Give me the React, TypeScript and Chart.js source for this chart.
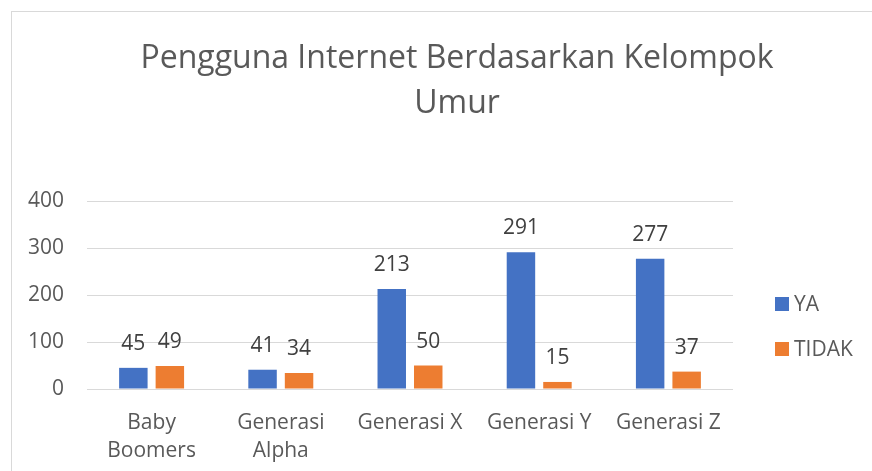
import React, { useEffect, useRef } from 'react';
import { Chart, registerables } from 'chart.js';

Chart.register(...registerables);

const titleLines = ['Pengguna Internet Berdasarkan Kelompok', 'Umur'];
const categories: (string | string[])[] = [
  ['Baby', 'Boomers'],
  ['Generasi', 'Alpha'],
  'Generasi X',
  'Generasi Y',
  'Generasi Z',
];
const seriesNames = ['YA', 'TIDAK'];
const yaValues = [45, 41, 213, 291, 277];
const tidakValues = [49, 34, 50, 15, 37];
const yMin = 0;
const yMax = 400;
const yStep = 100;

const FONT = "'Open Sans', 'Noto Sans', sans-serif";

const dataLabelsPlugin = {
  id: 'dataLabels',
  afterDatasetsDraw(chart: any) {
    const ctx = chart.ctx;
    ctx.save();
    ctx.font = `21px ${FONT}`;
    ctx.fillStyle = '#404040';
    ctx.textAlign = 'center';
    ctx.textBaseline = 'alphabetic';
    chart.data.datasets.forEach((ds: any, i: number) => {
      const meta = chart.getDatasetMeta(i);
      meta.data.forEach((el: any, j: number) => {
        ctx.fillText(String(ds.data[j]), el.x, el.y - 18);
      });
    });
    ctx.restore();
  },
};

const sideLegendPlugin = {
  id: 'sideLegend',
  afterDraw(chart: any) {
    const ctx = chart.ctx;
    const area = chart.chartArea;
    const x = area.right + 42;
    ctx.save();
    ctx.font = `21px ${FONT}`;
    ctx.textBaseline = 'middle';
    ctx.textAlign = 'left';
    chart.data.datasets.forEach((ds: any, i: number) => {
      const cy = area.top + 103 + i * 45;
      ctx.fillStyle = ds.backgroundColor;
      ctx.fillRect(x, cy - 7, 14, 14);
      ctx.fillStyle = '#595959';
      ctx.fillText(ds.label, x + 19, cy + 1);
    });
    ctx.restore();
  },
};

export default function App() {
  const canvasRef = useRef<HTMLCanvasElement | null>(null);

  useEffect(() => {
    if (!canvasRef.current) return;
    const chart = new Chart(canvasRef.current, {
      type: 'bar',
      data: {
        labels: categories,
        datasets: [
          {
            label: seriesNames[0],
            data: yaValues,
            backgroundColor: '#4472C4',
            borderWidth: 0,
            categoryPercentage: 0.565,
            barPercentage: 0.78,
          },
          {
            label: seriesNames[1],
            data: tidakValues,
            backgroundColor: '#ED7D31',
            borderWidth: 0,
            categoryPercentage: 0.565,
            barPercentage: 0.78,
          },
        ],
      },
      options: {
        responsive: false,
        animation: false,
        devicePixelRatio: 1,
        layout: { padding: 0 },
        plugins: {
          legend: { display: false },
          tooltip: { enabled: false },
          title: {
            display: true,
            text: titleLines,
            color: '#595959',
            align: 'center',
            font: { family: FONT, size: 32, weight: 'normal', lineHeight: 1.40625 },
            padding: { top: 36, bottom: 75 },
          },
        },
        scales: {
          x: {
            grid: { display: false, drawTicks: false },
            border: { display: false },
            ticks: {
              color: '#595959',
              font: { family: FONT, size: 21, lineHeight: 1.3333 },
              padding: 20,
              autoSkip: false,
              maxRotation: 0,
              minRotation: 0,
            },
            afterFit(scale: any) {
              scale.height = 82;
            },
          },
          y: {
            min: yMin,
            max: yMax,
            position: 'left',
            grid: { color: '#d9d9d9', lineWidth: 1, drawTicks: false },
            border: { display: false },
            ticks: {
              stepSize: yStep,
              color: '#595959',
              font: { family: FONT, size: 21 },
              padding: 23,
            },
            afterFit(scale: any) {
              scale.width = 87;
            },
          },
          yRight: {
            type: 'linear',
            position: 'right',
            display: true,
            grid: { display: false, drawTicks: false },
            border: { display: false },
            ticks: { display: false },
            afterFit(scale: any) {
              scale.width = 181;
            },
          },
        },
      } as any,
      plugins: [dataLabelsPlugin, sideLegendPlugin],
    });
    return () => chart.destroy();
  }, []);

  return (
    <div
      style={{
        position: 'fixed',
        left: 0,
        top: 0,
        width: 872,
        height: 471,
        overflow: 'hidden',
        background: '#ffffff',
      }}
    >
      <div
        style={{
          position: 'absolute',
          left: 11,
          top: 11,
          width: 2000,
          height: 2000,
          borderLeft: '1px solid #d9d9d9',
          borderTop: '1px solid #d9d9d9',
        }}
      />
      <canvas
        ref={canvasRef}
        width={914}
        height={471}
        style={{ position: 'absolute', left: 0, top: 0, width: 914, height: 471 }}
      />
    </div>
  );
}
